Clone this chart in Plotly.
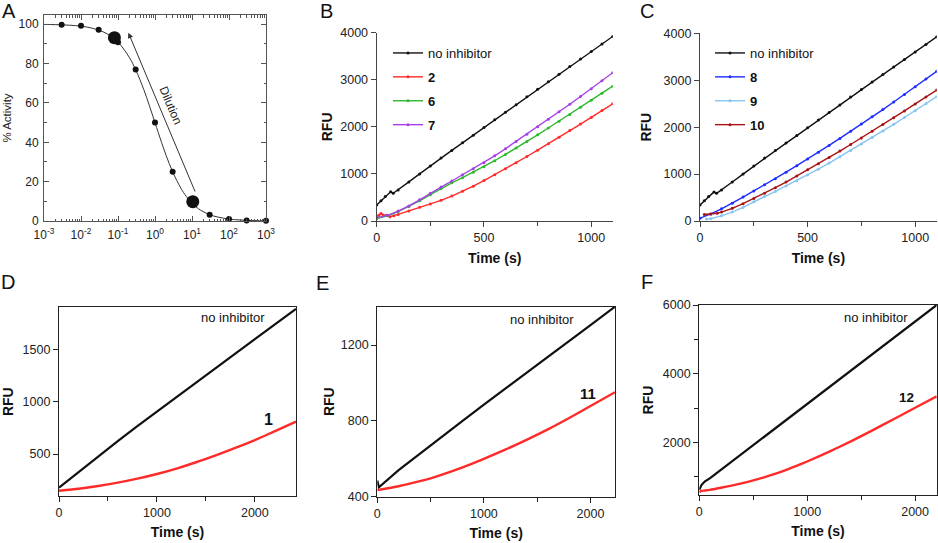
import plotly.graph_objects as go

FONT = "Arial, Liberation Sans, Helvetica, sans-serif"
W, H = 938, 543

# ---------------- Panel A data ----------------
a_conc = [0.003, 0.01, 0.03, 0.1, 0.3, 1, 3, 30, 100, 300, 1000]
a_act = [99.7, 99.2, 97.2, 90.9, 77.0, 50.0, 25.0, 3.2, 1.0, 0.3, 0.1]
a_big_conc = [0.08, 10.5]
a_big_act = [93.2, 9.8]
a_fit_conc = [0.001, 0.002, 0.005, 0.01, 0.02, 0.05, 0.1, 0.2, 0.3, 0.5, 0.7, 1, 1.5, 2, 3,
              5, 7, 10, 15, 20, 30, 50, 100, 200, 500, 1000]
a_fit_act = [99.9, 99.8, 99.5, 99.0, 98.0, 95.2, 90.9, 83.3, 76.9, 66.7, 58.8, 50.0, 40.0, 33.3, 25.0,
             16.7, 12.5, 9.1, 6.2, 4.8, 3.2, 2.0, 1.0, 0.5, 0.2, 0.1]
a_xtickvals = [0.001, 0.01, 0.1, 1, 10, 100, 1000]
a_xticktext = ["10<sup>-3</sup>", "10<sup>-2</sup>", "10<sup>-1</sup>", "10<sup>0</sup>",
               "10<sup>1</sup>", "10<sup>2</sup>", "10<sup>3</sup>"]

# ---------------- Panel B data ----------------
b_t_ctrl = [0, 20, 40, 65, 77, 100, 150, 200, 250, 300, 350, 400, 450, 500, 550, 600, 650, 700,
            750, 800, 850, 900, 950, 1000, 1050, 1100]
b_ctrl = [340, 430, 520, 620, 590, 660, 830, 1000, 1170, 1340, 1500, 1660, 1820, 1985, 2150, 2310,
          2470, 2640, 2800, 2960, 3120, 3280, 3440, 3600, 3760, 3920]
b_t_2 = [0, 10, 20, 30, 45, 62, 80, 100, 150, 200, 250, 300, 350, 400, 450, 500, 550, 600, 650, 700,
         750, 800, 850, 900, 950, 1000, 1050, 1100]
b_2 = [90, 120, 160, 130, 120, 90, 110, 140, 215, 290, 360, 440, 530, 630, 740, 860, 985, 1110, 1240,
       1370, 1505, 1640, 1780, 1920, 2060, 2200, 2345, 2490]
b_t = [0, 50, 100, 150, 200, 250, 300, 350, 400, 450, 500, 550, 600, 650, 700, 750, 800, 850, 900,
       950, 1000, 1050, 1100]
b_6 = [50, 110, 200, 310, 430, 560, 690, 810, 920, 1035, 1150, 1280, 1415, 1550, 1690, 1830, 1975,
       2120, 2265, 2415, 2565, 2715, 2865]
b_7 = [70, 120, 210, 320, 450, 590, 720, 850, 980, 1110, 1240, 1385, 1535, 1690, 1845, 2000, 2160,
       2320, 2480, 2645, 2810, 2980, 3150]

# ---------------- Panel C data ----------------
c_t_ctrl = b_t_ctrl
c_ctrl = [340, 430, 520, 620, 590, 660, 830, 1000, 1170, 1340, 1500, 1660, 1820, 1985, 2150, 2310,
          2470, 2640, 2800, 2960, 3120, 3280, 3440, 3600, 3760, 3925]
c_t = b_t
c_8 = [60, 150, 260, 380, 510, 640, 770, 900, 1040, 1180, 1320, 1465, 1610, 1760, 1910, 2065, 2220,
       2375, 2535, 2695, 2860, 3025, 3190]
c_t_9 = [30, 50, 100, 150, 200, 250, 300, 350, 400, 450, 500, 550, 600, 650, 700, 750, 800, 850, 900,
         950, 1000, 1050, 1100]
c_9 = [40, 50, 110, 190, 290, 410, 520, 630, 745, 860, 980, 1105, 1235, 1370, 1505, 1640, 1780, 1920,
       2060, 2205, 2350, 2500, 2650]
c_t_10 = [20, 50, 80, 100, 150, 200, 250, 300, 350, 400, 450, 500, 550, 600, 650, 700, 750, 800, 850,
          900, 950, 1000, 1050, 1100]
c_10 = [140, 150, 165, 190, 270, 370, 480, 590, 710, 830, 960, 1090, 1220, 1355, 1490, 1630, 1770,
        1910, 2055, 2200, 2345, 2495, 2640, 2790]

# ---------------- Panel D data ----------------
d_t = [0, 200, 400, 600, 800, 1000, 1200, 1400, 1600, 1800, 2000, 2200, 2420]
d_ctrl = [180, 330, 478, 624, 766, 906, 1044, 1182, 1320, 1458, 1596, 1734, 1885]
d_1 = [150, 169, 195, 227, 265, 310, 362, 422, 488, 558, 634, 716, 810]

# ---------------- Panel E data ----------------
e_t_ctrl = [0, 15, 200, 400, 600, 800, 1000, 1200, 1400, 1600, 1800, 2000, 2230]
e_ctrl = [485, 450, 540, 628, 714, 800, 885, 970, 1055, 1140, 1222, 1305, 1402]
e_t = [0, 200, 400, 500, 600, 800, 1000, 1200, 1400, 1600, 1800, 2000, 2230]
e_11 = [435, 455, 482, 497, 515, 555, 600, 648, 700, 755, 815, 878, 951]

# ---------------- Panel F data ----------------
f_t = [0, 20, 50, 100, 200, 300, 400, 500, 600, 800, 1000, 1200, 1400, 1600, 1800, 2000, 2200]
f_ctrl = [620, 760, 860, 960, 1200, 1440, 1680, 1920, 2160, 2640, 3120, 3600, 4080, 4560, 5040,
          5520, 6000]
f_t_12 = [0, 20, 50, 100, 200, 300, 400, 500, 600, 700, 800, 900, 1000, 1200, 1400, 1600, 1800,
          2000, 2200]
f_12 = [550, 590, 600, 620, 680, 745, 815, 895, 985, 1085, 1195, 1315, 1445, 1725, 2025, 2345, 2675,
        3010, 3345]

# ---------------- colours ----------------
BLACK = "#111111"
RED = "#ff2a2a"
GREEN = "#2db82d"
PURPLE = "#a540e8"
BLUE = "#1f2cff"
LIGHTBLUE = "#86c4f2"
DARKRED = "#a81414"


def dx(a, b):
    return [a / W, b / W]


def dy(top, bottom):
    return [1 - bottom / H, 1 - top / H]


fig = go.Figure()

# Panel A
fig.add_trace(go.Scatter(x=a_fit_conc, y=a_fit_act, mode="lines", line=dict(color="#333", width=1, shape="spline"),
                         xaxis="x", yaxis="y", showlegend=False, hoverinfo="skip"))
fig.add_trace(go.Scatter(x=a_conc, y=a_act, mode="markers", marker=dict(color=BLACK, size=6),
                         xaxis="x", yaxis="y", showlegend=False, cliponaxis=False))
fig.add_trace(go.Scatter(x=a_big_conc, y=a_big_act, mode="markers", marker=dict(color=BLACK, size=13),
                         xaxis="x", yaxis="y", showlegend=False, cliponaxis=False))


def kin(x, y, color, name, xa, ya, legend=None, markers=True, width=1.4, smooth=False):
    line = dict(color=color, width=width)
    if smooth:
        line.update(shape="spline", smoothing=0.6)
    fig.add_trace(go.Scatter(
        x=x, y=y, name=name, mode="lines+markers" if markers else "lines",
        line=line, marker=dict(color=color, size=3),
        xaxis=xa, yaxis=ya, showlegend=legend is not None,
        legend=legend if legend else "legend", legendgroup=name + xa,
    ))


# Panel B
kin(b_t_ctrl, b_ctrl, BLACK, "no inhibitor", "x2", "y2", "legend")
kin(b_t_2, b_2, RED, "<b>2</b>", "x2", "y2", "legend")
kin(b_t, b_6, GREEN, "<b>6</b>", "x2", "y2", "legend")
kin(b_t, b_7, PURPLE, "<b>7</b>", "x2", "y2", "legend")

# Panel C
kin(c_t_ctrl, c_ctrl, BLACK, "no inhibitor", "x3", "y3", "legend2")
kin(c_t, c_8, BLUE, "<b>8</b>", "x3", "y3", "legend2")
kin(c_t_9, c_9, LIGHTBLUE, "<b>9</b>", "x3", "y3", "legend2")
kin(c_t_10, c_10, DARKRED, "<b>10</b>", "x3", "y3", "legend2")

# Panels D, E, F
kin(d_t, d_ctrl, BLACK, "no inhibitor", "x4", "y4", markers=False, width=2.2)
kin(d_t, d_1, RED, "1", "x4", "y4", markers=False, width=2.4, smooth=True)
kin(e_t_ctrl, e_ctrl, BLACK, "no inhibitor", "x5", "y5", markers=False, width=2.2)
kin(e_t, e_11, RED, "11", "x5", "y5", markers=False, width=2.4, smooth=True)
kin(f_t, f_ctrl, BLACK, "no inhibitor", "x6", "y6", markers=False, width=2.2)
kin(f_t_12, f_12, RED, "12", "x6", "y6", markers=False, width=2.4, smooth=True)

tickfont = dict(family=FONT, size=12.5, color="#222")
titlefont = dict(family=FONT, size=14, color="#111", weight="bold")


def prism_axis(domain, anchor, rng, color="#444", **kw):
    d = dict(domain=domain, anchor=anchor, range=rng, showline=True, linecolor=color, linewidth=1.3,
             ticks="outside", ticklen=5, tickwidth=1.2, tickcolor=color, showgrid=False, zeroline=False,
             tickfont=tickfont, automargin=False)
    d.update(kw)
    return d


layout = dict(
    width=W, height=H, margin=dict(l=0, r=0, t=0, b=0, autoexpand=False),
    paper_bgcolor="white", plot_bgcolor="white",
    font=dict(family=FONT, color="#111"),
    # Panel A
    xaxis=dict(domain=dx(44, 266), anchor="y", type="log", range=[-3, 3], tickmode="array",
               tickvals=a_xtickvals, ticktext=a_xticktext, showline=True, linecolor="#555", linewidth=1,
               mirror="allticks", ticks="inside", ticklen=5, tickcolor="#555", automargin=False,
               ticklabelstandoff=3,
               minor=dict(dtick="D1", ticks="inside", ticklen=2.5, tickcolor="#555"),
               showgrid=False, zeroline=False, tickfont=dict(family=FONT, size=12, color="#222")),
    yaxis=dict(domain=dy(15, 221), anchor="x", range=[0, 104.7], tickvals=[0, 20, 40, 60, 80, 100],
               showline=True, linecolor="#555", linewidth=1, mirror="allticks", ticks="inside", ticklen=5,
               tickcolor="#555", minor=dict(dtick=10, ticks="inside", ticklen=2.5, tickcolor="#555"),
               showgrid=False, zeroline=False, tickfont=dict(family=FONT, size=12, color="#222"),
               automargin=False, ticklabelstandoff=2,
               title=dict(text="% Activity", font=dict(family=FONT, size=11.5, color="#222"), standoff=4)),
    # Panel B
    xaxis2=prism_axis(dx(376.7, 612.7), "y2", [0, 1100], tickvals=[0, 500, 1000],
                      minor=dict(dtick=250, ticks="outside", ticklen=4, tickcolor="#444"),
                      title=dict(text="Time (s)", font=titlefont, standoff=9)),
    yaxis2=prism_axis(dy(32.7, 221), "x2", [0, 4000], tickvals=[0, 1000, 2000, 3000, 4000],
                      title=dict(text="RFU", font=titlefont, standoff=4)),
    # Panel C
    xaxis3=prism_axis(dx(700, 936.7), "y3", [0, 1100], tickvals=[0, 500, 1000],
                      minor=dict(dtick=250, ticks="outside", ticklen=4, tickcolor="#444"),
                      title=dict(text="Time (s)", font=titlefont, standoff=9)),
    yaxis3=prism_axis(dy(33.3, 221), "x3", [0, 4000], tickvals=[0, 1000, 2000, 3000, 4000],
                      title=dict(text="RFU", font=titlefont, standoff=8)),
    # Panel D
    xaxis4=prism_axis(dx(59, 296), "y4", [0, 2420], "#222", tickvals=[0, 1000, 2000], mirror=True,
                      minor=dict(dtick=500, ticks="outside", ticklen=4, tickcolor="#222"),
                      title=dict(text="Time (s)", font=titlefont, standoff=8)),
    yaxis4=prism_axis(dy(307.3, 496), "x4", [100, 1900], "#222", tickvals=[500, 1000, 1500], mirror=True,
                      title=dict(text="RFU", font=titlefont, standoff=7)),
    # Panel E
    xaxis5=prism_axis(dx(377.3, 615), "y5", [0, 2230], "#222", tickvals=[0, 1000, 2000], mirror=True,
                      minor=dict(dtick=500, ticks="outside", ticklen=4, tickcolor="#222"),
                      title=dict(text="Time (s)", font=titlefont, standoff=8)),
    yaxis5=prism_axis(dy(306.7, 496.7), "x5", [400, 1402], "#222", tickvals=[400, 800, 1200], mirror=True,
                      title=dict(text="RFU", font=titlefont, standoff=2)),
    # Panel F
    xaxis6=prism_axis(dx(699.3, 936.7), "y6", [0, 2200], "#222", tickvals=[0, 1000, 2000], mirror=True,
                      minor=dict(dtick=500, ticks="outside", ticklen=4, tickcolor="#222"),
                      title=dict(text="Time (s)", font=titlefont, standoff=8)),
    yaxis6=prism_axis(dy(305, 495), "x6", [470, 6000], "#222", tickvals=[2000, 4000, 6000], mirror=True,
                      minor=dict(dtick=1000, tick0=0, ticks="outside", ticklen=4, tickcolor="#222"),
                      title=dict(text="RFU", font=titlefont, standoff=5)),
    legend=dict(x=388 / W, y=1 - 38 / H, xanchor="left", yanchor="top", bgcolor="rgba(0,0,0,0)",
                font=dict(family=FONT, size=13, color="#111"), tracegroupgap=4, itemwidth=30),
    legend2=dict(x=710 / W, y=1 - 38 / H, xanchor="left", yanchor="top", bgcolor="rgba(0,0,0,0)",
                 font=dict(family=FONT, size=13, color="#111"), tracegroupgap=4, itemwidth=30),
)

annotations = []
# panel letters
for letter, px, py in [("A", 9, 11), ("B", 326, 11), ("C", 647, 11),
                       ("D", 8, 282), ("E", 322, 283), ("F", 647, 282)]:
    annotations.append(dict(text=letter, x=px / W, y=1 - py / H, xref="paper", yref="paper",
                            showarrow=False, xanchor="center", yanchor="middle",
                            font=dict(family=FONT, size=20, color="#111")))

# Panel A arrow and label
annotations.append(dict(x=-0.72, y=95.7, ax=1.1, ay=14.2, xref="x", yref="y", axref="x", ayref="y",
                        showarrow=True, arrowhead=2, arrowsize=1.1, arrowwidth=1, arrowcolor="#333", text=""))
annotations.append(dict(x=0.42, y=59, xref="x", yref="y", text="Dilution", showarrow=False, textangle=67,
                        font=dict(family=FONT, size=12, color="#222")))

# Panels D-F labels
annotations += [
    dict(x=1776, y=1799, xref="x4", yref="y4", text="no inhibitor", showarrow=False,
         font=dict(family=FONT, size=13, color="#111")),
    dict(x=2143, y=830, xref="x4", yref="y4", text="<b>1</b>", showarrow=False,
         font=dict(family=FONT, size=16, color="#111")),
    dict(x=1544, y=1336, xref="x5", yref="y5", text="no inhibitor", showarrow=False,
         font=dict(family=FONT, size=13, color="#111")),
    dict(x=1981, y=946, xref="x5", yref="y5", text="<b>11</b>", showarrow=False,
         font=dict(family=FONT, size=15, color="#111")),
    dict(x=1642, y=5632, xref="x6", yref="y6", text="no inhibitor", showarrow=False,
         font=dict(family=FONT, size=13, color="#111")),
    dict(x=1920, y=3296, xref="x6", yref="y6", text="<b>12</b>", showarrow=False,
         font=dict(family=FONT, size=13.5, color="#111")),
]
layout["annotations"] = annotations
fig.update_layout(**layout)
fig.write_html("out.html", config={"displayModeBar": False},
               post_script="document.body.style.margin='0';")
